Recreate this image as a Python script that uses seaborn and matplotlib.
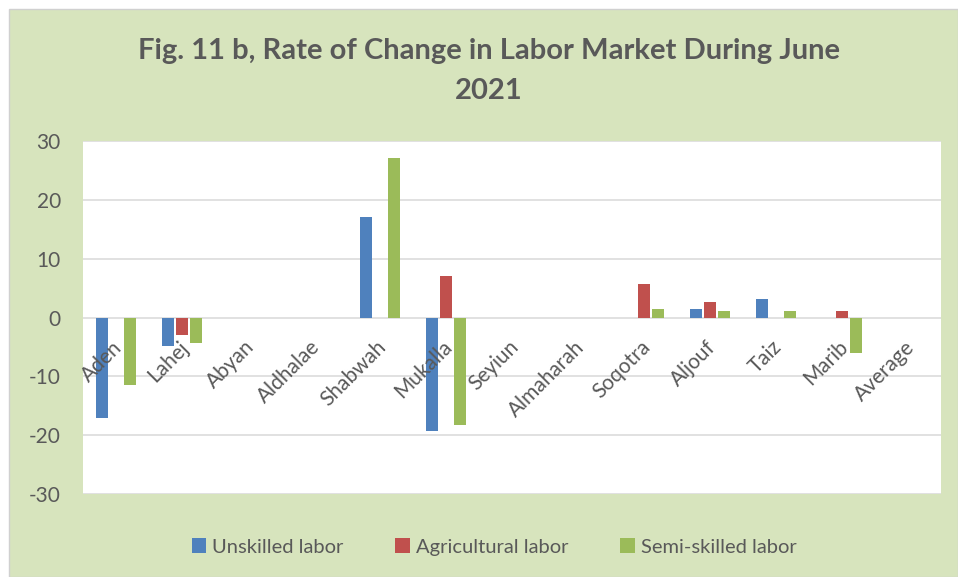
import numpy as np
import pandas as pd
import matplotlib
matplotlib.use("Agg")
import matplotlib.pyplot as plt
import matplotlib.transforms as mtransforms
from matplotlib.patches import Patch, Rectangle
import seaborn as sns

categories = ["Aden", "Lahej", "Abyan", "Aldhalae", "Shabwah", "Mukalla", "Seyiun",
              "Almaharah", "Soqotra", "Aljouf", "Taiz", "Marib", "Average"]
unskilled = [-17.1, -4.9, 0, 0, 17.1, -19.3, 0, 0, 0, 1.5, 3.2, 0, 0]
agricultural = [0, -3.0, 0, 0, 0, 7.0, 0, 0, 5.7, 2.7, 0, 1.1, 0]
semi_skilled = [-11.5, -4.4, 0, 0, 27.1, -18.3, 0, 0, 1.5, 1.1, 1.1, -6.0, 0]
series_names = ["Unskilled labor", "Agricultural labor", "Semi-skilled labor"]
colors = ["#4F81BD", "#C0504D", "#9BBB59"]
yticks = [-30, -20, -10, 0, 10, 20, 30]
title = "Fig. 11 b, Rate of Change in Labor Market During June\n2021"

df = pd.DataFrame({
    "region": categories * 3,
    "value": unskilled + agricultural + semi_skilled,
    "series": [series_names[0]] * len(categories) + [series_names[1]] * len(categories)
              + [series_names[2]] * len(categories),
})

sns.set_theme(style="white")
plt.rcParams["font.family"] = ["Lato", "DejaVu Sans"]
text_color = "#595959"

fig = plt.figure(figsize=(9.58, 5.77), dpi=100, facecolor="white")
bg = Rectangle((9 / 958, 0), 1 - 9 / 958, 1 - 9 / 577, transform=fig.transFigure,
               facecolor="#D7E4BD", edgecolor="#D0D0D0", linewidth=1.0, zorder=-10)
fig.patches.append(bg)

ax = fig.add_axes([83 / 958, 1 - 494 / 577, (941 - 83) / 958, (494 - 141) / 577], zorder=1)
ax.set_facecolor("white")

sns.barplot(data=df, x="region", y="value", hue="series", order=categories,
            hue_order=series_names, palette=colors, width=0.62, gap=0.12,
            saturation=1, ax=ax, legend=False, linewidth=0, zorder=1)

for y in yticks:
    ax.axhline(y, color="#D9D9D9", linewidth=1.1, zorder=0.5)

ax.set_axisbelow(False)
ax.set_ylim(-30, 30)
ax.set_xlim(-0.5, len(categories) - 0.5)
ax.set_yticks(yticks)
ax.set_yticklabels([str(v) for v in yticks])
ax.set_xlabel("")
ax.set_ylabel("")
for s in ax.spines.values():
    s.set_visible(False)
ax.spines["bottom"].set_position(("data", 0))
ax.tick_params(axis="y", length=0, pad=16, labelsize=15, labelcolor=text_color)
ax.tick_params(axis="x", length=0, pad=14, labelsize=15, labelcolor=text_color)
offset = mtransforms.ScaledTranslation(-4 / 100, 0, fig.dpi_scale_trans)
for lab in ax.get_xticklabels():
    lab.set_rotation(45)
    lab.set_ha("right")
    lab.set_va("top")
    lab.set_rotation_mode("anchor")
    lab.set_transform(lab.get_transform() + offset)

fig.text(489 / 958, 1 - 71 / 577, title, ha="center", va="center", fontsize=21,
         fontweight="bold", color=text_color, linespacing=1.7)

handles = [Patch(facecolor=c, edgecolor="none") for c in colors]
fig.legend(handles, series_names, loc="center", bbox_to_anchor=(494 / 958, 1 - 547 / 577),
           ncol=3, frameon=False, fontsize=14.5, labelcolor=text_color,
           handlelength=0.7, handleheight=0.7, handletextpad=0.3, columnspacing=2.6)

fig.savefig("out.png", dpi=100, facecolor=fig.get_facecolor())
